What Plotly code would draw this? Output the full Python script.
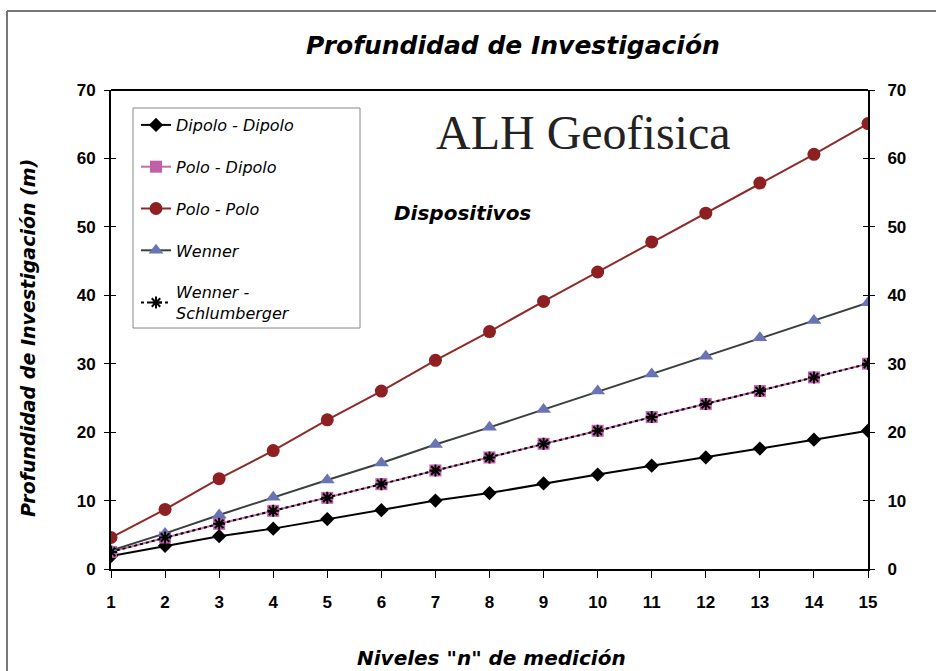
import plotly.graph_objects as go

niveles = list(range(1, 16))
dipolo_dipolo = [1.9, 3.4, 4.8, 5.9, 7.3, 8.6, 10.0, 11.1, 12.5, 13.8, 15.1, 16.3, 17.6, 18.9, 20.2]
polo_dipolo = [2.5, 4.6, 6.6, 8.5, 10.4, 12.4, 14.4, 16.3, 18.3, 20.2, 22.2, 24.1, 26.0, 28.0, 30.0]
polo_polo = [4.6, 8.7, 13.2, 17.3, 21.8, 26.0, 30.5, 34.7, 39.1, 43.4, 47.8, 52.0, 56.4, 60.6, 65.1]
wenner = [2.7, 5.2, 7.9, 10.5, 13.0, 15.5, 18.2, 20.7, 23.3, 26.0, 28.5, 31.1, 33.8, 36.3, 38.9]
wenner_schlumberger = [2.5, 4.6, 6.6, 8.5, 10.4, 12.4, 14.4, 16.3, 18.3, 20.2, 22.2, 24.1, 26.0, 28.0, 30.0]
y_ticks = [0, 10, 20, 30, 40, 50, 60, 70]

FONT = "Liberation Sans, Arial, sans-serif"
WIDE = "DejaVu Sans, Verdana, sans-serif"

W, H = 936, 671
L, R, T, B = 111, 68, 90, 102
PW, PH = W - L - R, H - T - B


def px(x):
    return (x - L) / PW


def py(y):
    return (H - B - y) / PH


fig = go.Figure()
fig.add_trace(go.Scatter(x=niveles, y=dipolo_dipolo, name="Dipolo - Dipolo", mode="lines+markers",
                         line=dict(color="black", width=2),
                         marker=dict(symbol="diamond", size=11, color="black"), legendgroup="a"))
fig.add_trace(go.Scatter(x=niveles, y=polo_dipolo, name="Polo - Dipolo", mode="lines+markers",
                         line=dict(color="#c86aa8", width=2),
                         marker=dict(symbol="square", size=12, color="#c060a8"), legendgroup="b"))
fig.add_trace(go.Scatter(x=niveles, y=polo_polo, name="Polo - Polo", mode="lines+markers",
                         line=dict(color="#8e2a2a", width=2),
                         marker=dict(symbol="circle", size=13, color="#8e1f22"), legendgroup="c"))
fig.add_trace(go.Scatter(x=niveles, y=wenner, name="Wenner", mode="lines+markers",
                         line=dict(color="#3a3f3f", width=2),
                         marker=dict(symbol="triangle-up", size=13, color="#6a74b4"), legendgroup="d"))
fig.add_trace(go.Scatter(x=niveles, y=wenner_schlumberger, name="Wenner -<br>Schlumberger", mode="lines+markers",
                         line=dict(color="black", width=2, dash="dot"),
                         marker=dict(symbol="asterisk", size=10, color="black",
                                     line=dict(color="black", width=2)), legendgroup="e"))
# invisible traces so the extra axes are drawn
for ax in ["y2", "y3", "y4"]:
    fig.add_trace(go.Scatter(x=niveles, y=wenner, yaxis=ax, showlegend=False, hoverinfo="skip",
                             mode="lines", line=dict(color="rgba(0,0,0,0)")))

axis_font = dict(family=FONT, size=17, color="black", weight="bold")
common_y = dict(range=[0, 70], tickvals=y_ticks, ticklen=5, tickwidth=1, tickcolor="black",
                showline=True, linecolor="black", linewidth=2, showgrid=False, zeroline=False,
                automargin=False)

fig.update_layout(
    width=W, height=H,
    margin=dict(l=L, r=R, t=T, b=B),
    paper_bgcolor="white", plot_bgcolor="white",
    title=dict(text="<b><i>Profundidad de Investigación</i></b>", x=513 / W, xanchor="center",
               y=1 - 45 / H, yanchor="middle", font=dict(family=WIDE, size=25, color="black")),
    xaxis=dict(range=[1, 15], tickvals=niveles, ticks="outside", ticklen=7, tickwidth=1, tickcolor="black",
               showline=True, linecolor="black", linewidth=2, showgrid=False, zeroline=False,
               tickfont=axis_font, automargin=False, ticklabelstandoff=10),
    yaxis=dict(**common_y, ticks="outside", tickfont=axis_font, ticklabelstandoff=5),
    yaxis2=dict(**common_y, ticks="outside", overlaying="y", side="right", anchor="x", tickfont=axis_font,
                ticklabelstandoff=9),
    yaxis3=dict(**common_y, ticks="inside", overlaying="y", side="left", anchor="x", showticklabels=False),
    yaxis4=dict(**common_y, ticks="inside", overlaying="y", side="right", anchor="x", showticklabels=False),
    legend=dict(x=px(136), y=py(108), xanchor="left", yanchor="top",
                borderwidth=0, bgcolor="rgba(0,0,0,0)",
                font=dict(family=WIDE, size=16, color="black", style="italic"),
                tracegroupgap=18),
    showlegend=True,
)

# top border of plot area
fig.add_shape(type="line", xref="paper", yref="paper", x0=0, x1=1, y0=1, y1=1,
              line=dict(color="black", width=2))
# outer frame (top and left edges)
fig.add_shape(type="line", xref="paper", yref="paper", x0=px(7), x1=px(940), y0=py(11), y1=py(11),
              line=dict(color="#777777", width=2))
fig.add_shape(type="line", xref="paper", yref="paper", x0=px(7), x1=px(7), y0=py(11), y1=py(680),
              line=dict(color="#777777", width=2))
# legend box
fig.add_shape(type="rect", xref="paper", yref="paper", x0=px(133), x1=px(360), y0=py(328), y1=py(108),
              line=dict(color="#888888", width=1), fillcolor="rgba(255,255,255,0)", layer="above")

fig.add_annotation(text="ALH Geofisica", xref="paper", yref="paper",
                   x=px(583), y=py(132), xanchor="center", yanchor="middle", showarrow=False,
                   font=dict(family="Liberation Serif, Times New Roman, serif", size=48, color="#222222"))
fig.add_annotation(text="<b><i>Dispositivos</i></b>", xref="paper", yref="paper",
                   x=px(462), y=py(213), xanchor="center", yanchor="middle", showarrow=False,
                   font=dict(family=WIDE, size=20, color="black"))
# axis titles
fig.add_annotation(text="<b><i>Niveles \"n\" de medición</i></b>", xref="paper", yref="paper",
                   x=px(491), y=py(658), xanchor="center", yanchor="middle", showarrow=False,
                   font=dict(family=WIDE, size=20, color="black"))
fig.add_annotation(text="<b><i>Profundidad de Investigación (m)</i></b>", xref="paper", yref="paper",
                   x=px(28), y=py(338), xanchor="center", yanchor="middle", showarrow=False, textangle=-90,
                   font=dict(family=WIDE, size=19, color="black"))

fig.write_html("out.html", post_script="document.body.style.margin='0px';",
               config={"displayModeBar": False})
